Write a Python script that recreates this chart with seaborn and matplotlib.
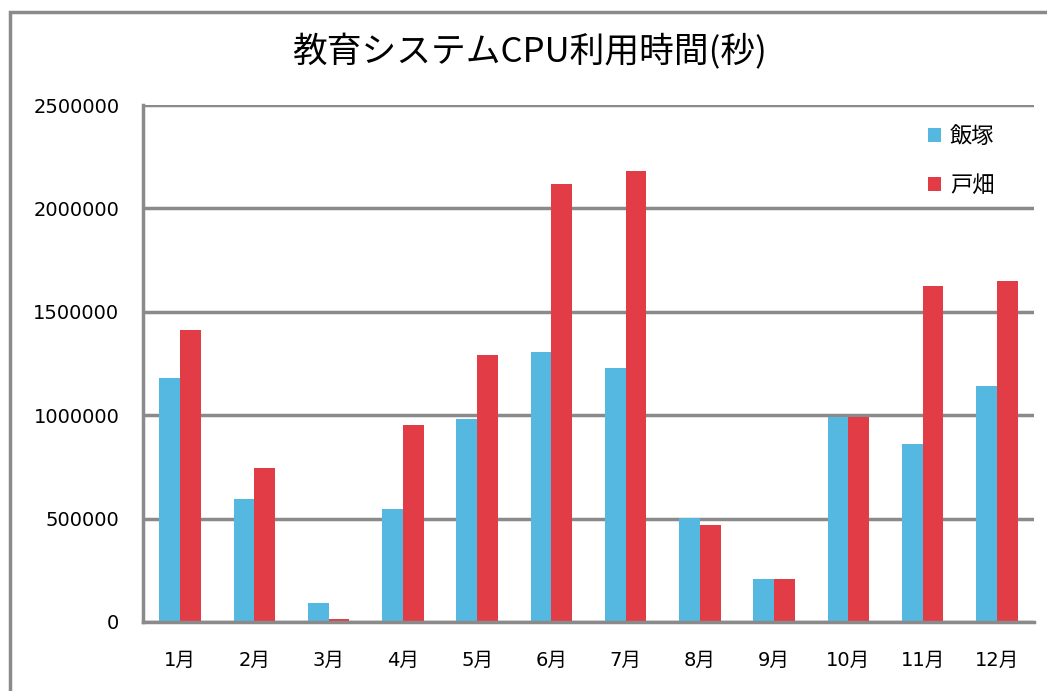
import pandas as pd
import seaborn as sns
import matplotlib.pyplot as plt
from matplotlib.patches import Rectangle

months = ["1月", "2月", "3月", "4月", "5月", "6月", "7月", "8月", "9月", "10月", "11月", "12月"]
iizuka = [1180000, 595000, 92000, 546000, 982000, 1306000, 1228000, 503000, 208000, 991000, 861000, 1141000]
tobata = [1412000, 745000, 15000, 953000, 1291000, 2118000, 2181000, 469000, 208000, 991000, 1625000, 1649000]

df = pd.DataFrame({
    "月": months * 2,
    "時間": iizuka + tobata,
    "地区": ["飯塚"] * 12 + ["戸畑"] * 12,
})

sns.set_style("white")
plt.rcParams["font.family"] = ["DejaVu Sans", "Noto Sans CJK JP"]
plt.rcParams["text.color"] = "black"
plt.rcParams["xtick.color"] = "black"
plt.rcParams["ytick.color"] = "black"

fig = plt.figure(figsize=(10.47, 6.91), dpi=100)
ax = fig.add_axes([0.1366, 0.0999, 0.851, 0.7481])

sns.barplot(data=df, x="月", y="時間", hue="地区", palette=["#55B8E0", "#E23C46"],
            width=0.56, gap=0, saturation=1, linewidth=0, ax=ax)

ax.set_ylim(0, 2500000)
ax.set_xlim(-0.5, 11.5)
ax.set_yticks(range(0, 2500001, 500000))
ax.set_yticklabels([str(v) for v in range(0, 2500001, 500000)])
ax.yaxis.grid(True, color="#8a8a8a", linewidth=2.5)
ax.set_axisbelow(True)
for s in ["top", "right"]:
    ax.spines[s].set_visible(False)
for s in ["left", "bottom"]:
    ax.spines[s].set_color("#8a8a8a")
    ax.spines[s].set_linewidth(2.5)
ax.tick_params(axis="y", length=0, pad=17, labelsize=14)
ax.tick_params(axis="x", length=0, pad=21, labelsize=14)
ax.set_xlabel("")
ax.set_ylabel("")

ax.legend(title=None, frameon=False, loc="upper right", bbox_to_anchor=(0.978, 1.0),
          prop={"family": ["Noto Sans CJK JP"], "size": 16},
          handlelength=0.6, handleheight=0.6, handletextpad=0.4, labelspacing=1.15)

fig.text(0.506, 0.924, "教育システムCPU利用時間(秒)", ha="center", va="center",
         fontsize=25, family=["Noto Sans CJK JP"])

fig.patches.append(Rectangle((10 / 1047, -0.1), 1.2, 0.1 + 1 - 12 / 691,
                             transform=fig.transFigure, fill=False,
                             edgecolor="#8a8a8a", linewidth=2.5))

fig.savefig("out.png", dpi=100)
